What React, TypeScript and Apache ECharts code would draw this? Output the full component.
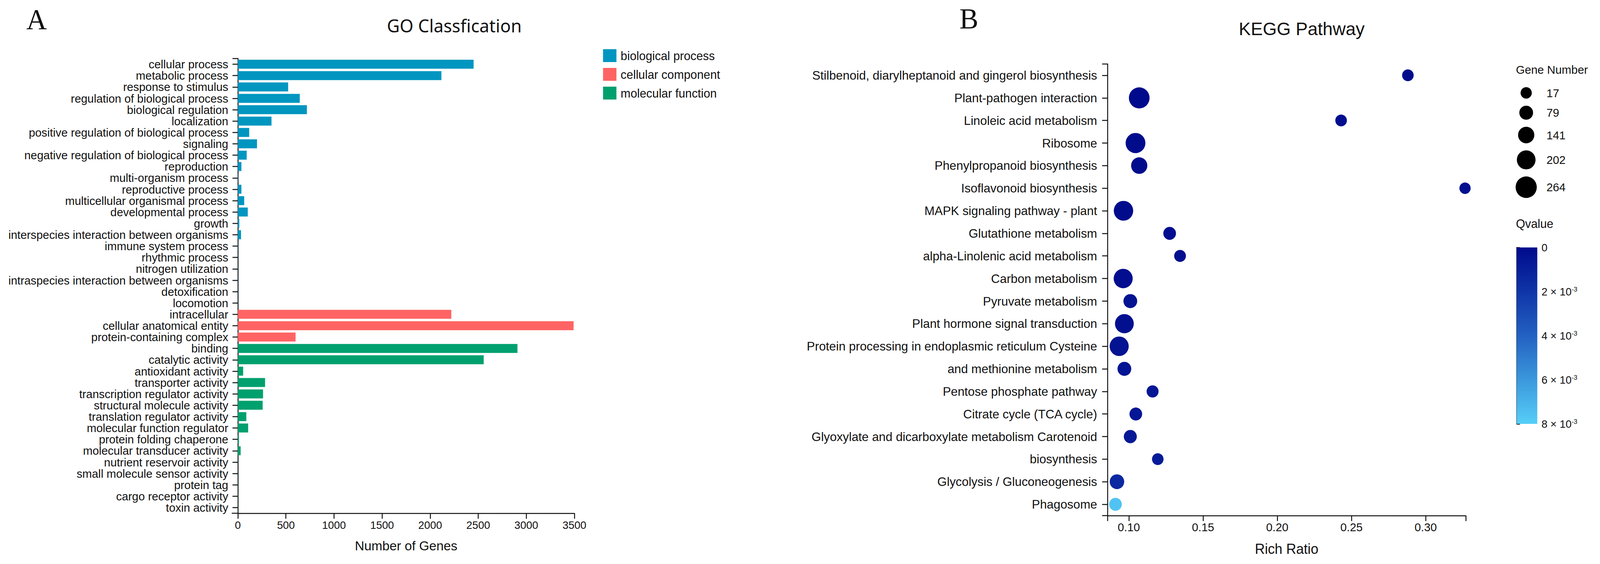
import React, { useEffect, useRef } from "react";
import * as echarts from "echarts";

// ---------- GO classification data ----------
const bpCategories = [
  "cellular process", "metabolic process", "response to stimulus", "regulation of biological process",
  "biological regulation", "localization", "positive regulation of biological process", "signaling",
  "negative regulation of biological process", "reproduction", "multi-organism process", "reproductive process",
  "multicellular organismal process", "developmental process", "growth", "interspecies interaction between organisms",
  "immune system process", "rhythmic process", "nitrogen utilization", "intraspecies interaction between organisms",
  "detoxification", "locomotion",
];
const bpValues = [2452, 2117, 523, 644, 718, 350, 118, 199, 92, 37, 3, 37, 66, 103, 15, 33, 2, 1, 1, 1, 1, 1];

const ccCategories = ["intracellular", "cellular anatomical entity", "protein-containing complex"];
const ccValues = [2220, 3492, 600];

const mfCategories = [
  "binding", "catalytic activity", "antioxidant activity", "transporter activity",
  "transcription regulator activity", "structural molecule activity", "translation regulator activity",
  "molecular function regulator", "protein folding chaperone", "molecular transducer activity",
  "nutrient reservoir activity", "small molecule sensor activity", "protein tag", "cargo receptor activity",
  "toxin activity",
];
const mfValues = [2908, 2557, 55, 283, 262, 258, 88, 107, 11, 29, 1, 1, 1, 1, 1];

const goGroupNames = ["biological process", "cellular component", "molecular function"];
const goColors = ["#0096C0", "#FF6464", "#00A06E"];

// ---------- KEGG data ----------
const keggPathways = [
  "Stilbenoid, diarylheptanoid and gingerol biosynthesis",
  "Plant-pathogen interaction",
  "Linoleic acid metabolism",
  "Ribosome",
  "Phenylpropanoid biosynthesis",
  "Isoflavonoid biosynthesis",
  "MAPK signaling pathway - plant",
  "Glutathione metabolism",
  "alpha-Linolenic acid metabolism",
  "Carbon metabolism",
  "Pyruvate metabolism",
  "Plant hormone signal transduction",
  "Protein processing in endoplasmic reticulum Cysteine",
  "and methionine metabolism",
  "Pentose phosphate pathway",
  "Citrate cycle (TCA cycle)",
  "Glyoxylate and dicarboxylate metabolism Carotenoid",
  "biosynthesis",
  "Glycolysis / Gluconeogenesis",
  "Phagosome",
];
const keggRichRatio = [0.288, 0.107, 0.243, 0.1045, 0.107, 0.3265, 0.0964, 0.1275, 0.1345, 0.0962,
  0.101, 0.097, 0.0935, 0.097, 0.116, 0.1047, 0.101, 0.1195, 0.092, 0.091];
const keggGeneNumber = [25, 252, 26, 229, 141, 17, 220, 52, 30, 211, 79, 205, 212, 79, 35, 52, 60, 25, 97, 52];
const keggQvalue = [0.0001, 0.0, 0.0002, 0.0001, 0.0001, 0.0003, 0.0001, 0.0002, 0.0003, 0.0002,
  0.0004, 0.0003, 0.0004, 0.0005, 0.0006, 0.0006, 0.0007, 0.0008, 0.0014, 0.0076];

const richTicks = [0.1, 0.15, 0.2, 0.25, 0.3];
const richMin = 0.0856;
const richMax = 0.327;
const sizeLegendValues = [17, 79, 141, 202, 264];
const qTicks = [0, 0.002, 0.004, 0.006, 0.008];
const qTickMantissa = ["0", "2", "4", "6", "8"];
const qColors = ["#000A8C", "#0F35A8", "#2361C2", "#3B98DC", "#56CEF8"];

const FONT = "Liberation Sans, Arial, sans-serif";
const DESIGN_W = 4184;
const DESIGN_H = 1445;

function bubbleSize(n: number) {
  return 27.7 + 0.1045 * n;
}

function buildOption() {
  const goCategories = [...bpCategories, ...ccCategories, ...mfCategories];
  const groups = [bpValues, ccValues, mfValues];
  const offsets = [0, bpValues.length, bpValues.length + ccValues.length];
  const goSeries = groups.map((vals, gi) => {
    const data = goCategories.map((_, i) => {
      const k = i - offsets[gi];
      return k >= 0 && k < vals.length ? vals[k] : "-";
    });
    return {
      name: goGroupNames[gi],
      type: "bar",
      xAxisIndex: 0,
      yAxisIndex: 0,
      stack: "go",
      barWidth: 23,
      itemStyle: { color: goColors[gi] },
      data,
    };
  });

  const scatterData = keggPathways.map((p, i) => [keggRichRatio[i], i, keggGeneNumber[i], keggQvalue[i]]);

  // size legend (Gene Number)
  const legendX = 3991;
  let y = 238;
  const sizeGraphics: any[] = [];
  sizeLegendValues.forEach((v, i) => {
    const r = bubbleSize(v) / 2;
    if (i > 0) y += bubbleSize(sizeLegendValues[i - 1]) / 2 + r + 18;
    sizeGraphics.push({
      type: "circle",
      shape: { cx: legendX, cy: y, r },
      style: { fill: "#000" },
    });
    sizeGraphics.push({
      type: "text",
      x: 4044,
      y,
      style: {
        text: String(v), fontSize: 30, fontFamily: FONT, fill: "#111",
        align: "left", verticalAlign: "middle", textAlign: "left", textVerticalAlign: "middle",
      },
    });
  });

  const txt = (text: string, x: number, yy: number, size: number, family: string, align = "left") => ({
    type: "text",
    x,
    y: yy,
    style: {
      text, fontSize: size, fontFamily: family, fill: "#111",
      align, verticalAlign: "middle", textAlign: align, textVerticalAlign: "middle",
    },
  });
  const seg = (x1: number, y1: number, x2: number, y2: number) => ({
    type: "line",
    shape: { x1, y1, x2, y2 },
    style: { stroke: "#111", lineWidth: 2.5 },
  });

  const axisLineStyle = { color: "#111", width: 2.5 };

  return {
    animation: false,
    backgroundColor: "#fff",
    grid: [
      { left: 622, top: 150, width: 880, height: 1165, outerBoundsMode: "none", containLabel: false },
      { left: 2896, top: 164, width: 937, height: 1157, outerBoundsMode: "none", containLabel: false },
      { left: 3966, top: 634, width: 54, height: 452, outerBoundsMode: "none", containLabel: false },
    ],
    legend: {
      data: goGroupNames,
      orient: "vertical",
      left: 1577,
      top: 126,
      itemWidth: 35,
      itemHeight: 33,
      itemGap: 15,
      icon: "rect",
      padding: 0,
      textStyle: { fontSize: 31, fontFamily: FONT, color: "#111", padding: [0, 0, 0, 6] },
    },
    xAxis: [
      {
        type: "value",
        gridIndex: 0,
        min: 0,
        max: 3500,
        interval: 500,
        name: "Number of Genes",
        nameLocation: "middle",
        nameGap: 66,
        nameTextStyle: { fontSize: 34, fontFamily: FONT, color: "#111" },
        axisLine: { show: true, lineStyle: axisLineStyle },
        axisTick: { show: true, length: 14, lineStyle: axisLineStyle },
        axisLabel: { fontSize: 28, fontFamily: FONT, color: "#111", margin: 16, formatter: (v: number) => String(v) },
        splitLine: { show: false },
      },
      {
        type: "value",
        gridIndex: 1,
        min: richMin,
        max: richMax,
        name: "Rich Ratio",
        nameLocation: "middle",
        nameGap: 68,
        nameTextStyle: { fontSize: 36, fontFamily: FONT, color: "#111" },
        axisLine: { show: true, lineStyle: axisLineStyle },
        axisTick: { show: true, length: 14, lineStyle: axisLineStyle, customValues: [richMin, ...richTicks, richMax] },
        axisLabel: {
          fontSize: 30, fontFamily: FONT, color: "#111", margin: 14,
          customValues: richTicks,
          formatter: (v: number) => v.toFixed(2),
        },
        splitLine: { show: false },
      },
      {
        type: "value",
        gridIndex: 2,
        min: 0,
        max: 1,
        show: false,
      },
    ],
    yAxis: [
      {
        type: "category",
        gridIndex: 0,
        data: goCategories,
        inverse: true,
        axisLine: { show: true, lineStyle: axisLineStyle },
        axisTick: { show: true, alignWithLabel: true, length: 14, lineStyle: axisLineStyle },
        axisLabel: { fontSize: 30, fontFamily: FONT, color: "#111", margin: 25, interval: 0 },
        splitLine: { show: false },
      },
      {
        type: "category",
        gridIndex: 1,
        data: keggPathways,
        inverse: true,
        axisLine: { show: true, lineStyle: axisLineStyle },
        axisTick: { show: true, alignWithLabel: true, length: 14, lineStyle: axisLineStyle },
        axisLabel: { fontSize: 32, fontFamily: FONT, color: "#111", margin: 27, interval: 0 },
        splitLine: { show: false },
      },
      {
        type: "value",
        gridIndex: 2,
        position: "right",
        min: 0,
        max: 0.008,
        interval: 0.002,
        inverse: true,
        axisLine: { show: true, lineStyle: axisLineStyle },
        axisTick: { show: true, length: 9, lineStyle: axisLineStyle },
        axisLabel: {
          fontSize: 28, fontFamily: FONT, color: "#111", margin: 11,
          formatter: (v: number) => {
            const idx = qTicks.findIndex((t) => Math.abs(t - v) < 1e-9);
            if (idx < 0) return "";
            if (idx === 0) return "{b|0}";
            return "{b|" + qTickMantissa[idx] + " × 10}{s|-3}";
          },
          rich: {
            b: { fontSize: 28, fontFamily: FONT, color: "#111" },
            s: { fontSize: 17, fontFamily: FONT, color: "#111", verticalAlign: "top" },
          },
        },
        splitLine: { show: false },
      },
    ],
    visualMap: [
      {
        type: "continuous",
        show: false,
        seriesIndex: 3,
        dimension: 3,
        min: 0,
        max: 0.008,
        inRange: { color: qColors },
      },
    ],
    series: [
      ...goSeries,
      {
        name: "KEGG",
        type: "scatter",
        xAxisIndex: 1,
        yAxisIndex: 1,
        data: scatterData,
        symbol: "circle",
        symbolSize: (val: number[]) => bubbleSize(val[2]),
        itemStyle: { opacity: 1 },
      },
      {
        name: "Qvalue bar",
        type: "custom",
        xAxisIndex: 2,
        yAxisIndex: 2,
        data: [[0.5, 0.004]],
        silent: true,
        renderItem: (params: any) => {
          const cs = params.coordSys;
          return {
            type: "rect",
            shape: { x: cs.x, y: cs.y, width: cs.width, height: cs.height },
            style: {
              fill: new echarts.graphic.LinearGradient(0, 0, 0, 1,
                qColors.map((c, i) => ({ offset: i / (qColors.length - 1), color: c }))),
            },
          };
        },
      },
    ],
    graphic: [
      txt("A", 69, 50, 74, "Liberation Serif, Times New Roman, serif"),
      txt("B", 2509, 48, 74, "Liberation Serif, Times New Roman, serif"),
      txt("GO Classfication", 1188, 65, 46, "Noto Sans, Open Sans, sans-serif", "center"),
      txt("KEGG Pathway", 3404, 74, 47, FONT, "center"),
      txt("Gene Number", 3964, 178, 30, FONT),
      txt("Qvalue", 3964, 573, 31, FONT),
      // axis end ticks / extensions
      seg(608, 150, 622, 150),
      seg(606, 1315, 622, 1315),
      seg(2882, 164, 2896, 164),
      seg(2882, 1321, 2896, 1321),
      ...sizeGraphics,
    ],
  };
}

export default function App() {
  const ref = useRef<HTMLDivElement>(null);
  useEffect(() => {
    document.body.style.margin = "0";
    document.documentElement.style.overflow = "hidden";
    document.body.style.overflow = "hidden";
    const el = ref.current as HTMLDivElement;
    // fit the fixed design canvas into whatever viewport is actually available
    const vw = document.documentElement.clientWidth || window.innerWidth;
    const vh = document.documentElement.clientHeight || window.innerHeight;
    const sx = Math.min(1, vw / DESIGN_W);
    const sy = Math.min(1, vh / DESIGN_H);
    el.style.transformOrigin = "0 0";
    el.style.transform = `scale(${sx}, ${sy})`;
    const chart = echarts.init(el, null, { renderer: "svg" });
    chart.setOption(buildOption() as any);
    return () => chart.dispose();
  }, []);
  return (
    <div
      ref={ref}
      style={{ position: "fixed", left: 0, top: 0, width: DESIGN_W, height: DESIGN_H, background: "#fff" }}
    />
  );
}
